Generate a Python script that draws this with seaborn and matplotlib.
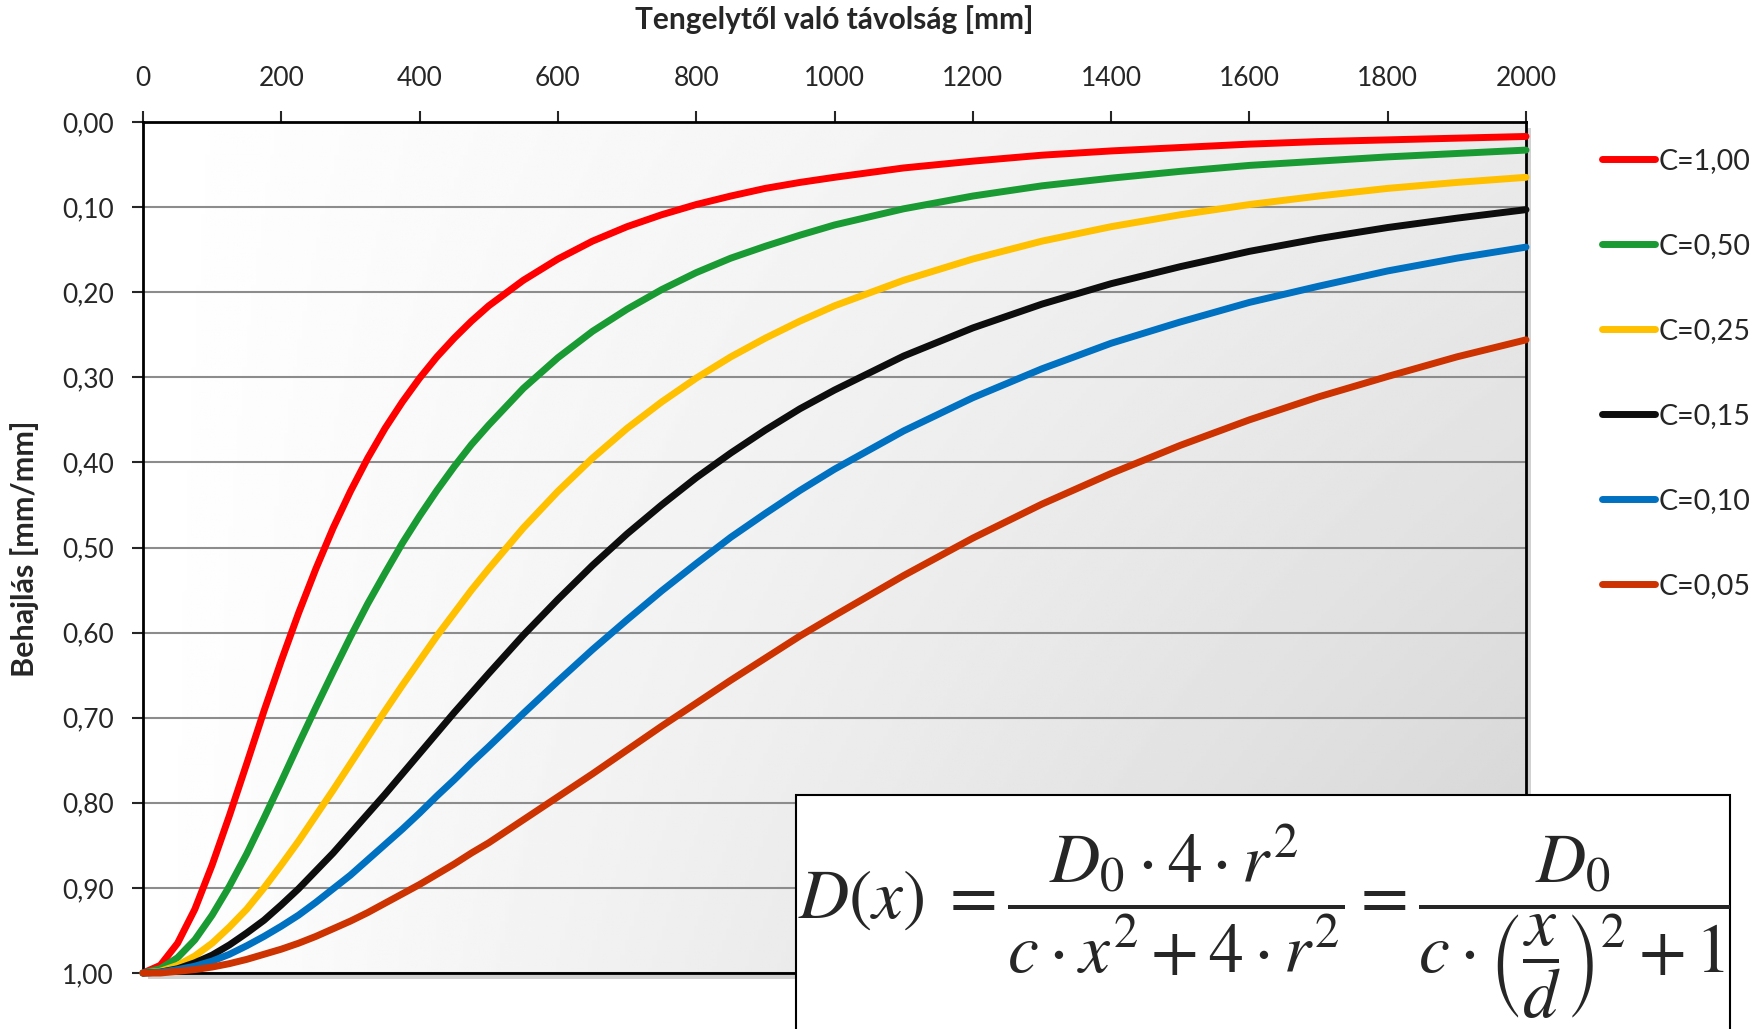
import numpy as np
import pandas as pd
import matplotlib
matplotlib.use("Agg")
import matplotlib.pyplot as plt
import seaborn as sns
from matplotlib.patches import Rectangle
from matplotlib.lines import Line2D
from matplotlib.ticker import FuncFormatter

# distance from axis [mm]
x_mm = [0, 25, 50, 75, 100, 125, 150, 175, 200, 225, 250, 275, 300, 325, 350,
        375, 400, 425, 450, 475, 500, 550, 600, 650, 700, 750, 800, 850, 900,
        950, 1000, 1100, 1200, 1300, 1400, 1500, 1600, 1700, 1800, 1900, 2000]

# deflection [mm/mm] for each C
d_c100 = [1.000, 0.991, 0.965, 0.925, 0.873, 0.815, 0.754, 0.692, 0.633, 0.577,
          0.525, 0.477, 0.434, 0.395, 0.360, 0.329, 0.301, 0.276, 0.254, 0.234,
          0.216, 0.186, 0.161, 0.140, 0.123, 0.109, 0.097, 0.087, 0.078, 0.071,
          0.065, 0.054, 0.046, 0.039, 0.034, 0.030, 0.026, 0.023, 0.021, 0.019, 0.017]
d_c050 = [1.000, 0.995, 0.982, 0.961, 0.932, 0.898, 0.860, 0.818, 0.775, 0.731,
          0.688, 0.646, 0.605, 0.566, 0.530, 0.495, 0.463, 0.433, 0.405, 0.379,
          0.356, 0.313, 0.277, 0.246, 0.220, 0.197, 0.177, 0.160, 0.146, 0.133,
          0.121, 0.102, 0.087, 0.075, 0.066, 0.058, 0.051, 0.046, 0.041, 0.037, 0.033]
d_c025 = [1.000, 0.998, 0.991, 0.980, 0.965, 0.946, 0.925, 0.900, 0.873, 0.845,
          0.815, 0.785, 0.754, 0.723, 0.692, 0.662, 0.633, 0.604, 0.577, 0.550,
          0.525, 0.477, 0.434, 0.395, 0.360, 0.329, 0.301, 0.276, 0.254, 0.234,
          0.216, 0.186, 0.161, 0.140, 0.123, 0.109, 0.097, 0.087, 0.078, 0.071, 0.065]
d_c015 = [1.000, 0.999, 0.995, 0.988, 0.979, 0.967, 0.953, 0.938, 0.920, 0.901,
          0.880, 0.859, 0.836, 0.813, 0.790, 0.766, 0.742, 0.718, 0.694, 0.671,
          0.648, 0.603, 0.561, 0.521, 0.484, 0.450, 0.418, 0.389, 0.362, 0.337,
          0.315, 0.275, 0.242, 0.214, 0.190, 0.170, 0.152, 0.137, 0.124, 0.113, 0.103]
d_c010 = [1.000, 0.999, 0.996, 0.992, 0.986, 0.978, 0.968, 0.957, 0.945, 0.932,
          0.917, 0.901, 0.885, 0.867, 0.849, 0.831, 0.812, 0.792, 0.773, 0.753,
          0.734, 0.695, 0.657, 0.620, 0.585, 0.551, 0.519, 0.488, 0.460, 0.433,
          0.408, 0.363, 0.324, 0.290, 0.260, 0.235, 0.212, 0.193, 0.175, 0.160, 0.147]
d_c005 = [1.000, 1.000, 0.998, 0.996, 0.993, 0.989, 0.984, 0.978, 0.972, 0.965,
          0.957, 0.948, 0.939, 0.929, 0.918, 0.907, 0.896, 0.884, 0.872, 0.859,
          0.847, 0.820, 0.793, 0.766, 0.738, 0.710, 0.683, 0.656, 0.630, 0.604,
          0.580, 0.533, 0.489, 0.449, 0.413, 0.380, 0.350, 0.323, 0.299, 0.276, 0.256]

labels = ["C=1,00", "C=0,50", "C=0,25", "C=0,15", "C=0,10", "C=0,05"]
series = [d_c100, d_c050, d_c025, d_c015, d_c010, d_c005]
colors = ["#ff0000", "#1a9a32", "#ffc000", "#0d0d0d", "#0070c0", "#cc3300"]

rows = []
for lab, vals in zip(labels, series):
    for x, y in zip(x_mm, vals):
        rows.append((x, y, lab))
df = pd.DataFrame(rows, columns=["x", "D", "C"])

sns.set_style("white")
plt.rcParams['font.family'] = ['Lato', 'DejaVu Sans']
plt.rcParams['mathtext.fontset'] = 'stix'

W, H = 1764, 1029
fig = plt.figure(figsize=(W / 100, H / 100), dpi=100)
left, right, top, bottom = 143, 1526, 122, 973
ax = fig.add_axes([left / W, 1 - bottom / H, (right - left) / W, (bottom - top) / H])

# drop shadow of plot area
fig.add_artist(Rectangle(((left + 5) / W, 1 - (bottom + 6) / H), (right - left) / W,
                         (bottom - top) / H, transform=fig.transFigure,
                         facecolor="#9a9a9a", alpha=0.45, edgecolor="none", zorder=-1))

# gradient background
u = np.linspace(0, 1, 300)
v = np.linspace(0, 1, 300)
U, V = np.meshgrid(u, v)
G = 1 - U * (0.08 + 0.09 * (1 - V))
ax.imshow(G, extent=[0, 1, 0, 1], transform=ax.transAxes, origin="lower",
          cmap="gray", vmin=0, vmax=1, aspect="auto", zorder=0)

sns.lineplot(data=df, x="x", y="D", hue="C", hue_order=labels,
             palette=dict(zip(labels, colors)), linewidth=5, estimator=None,
             legend=False, ax=ax, solid_capstyle="round", solid_joinstyle="round",
             clip_on=False, zorder=3)

ax.set_xlim(0, 2000)
ax.set_ylim(1, 0)
ax.set_xticks(range(0, 2001, 200))
ax.set_yticks(np.round(np.arange(0, 1.01, 0.1), 2))
ax.yaxis.set_major_formatter(FuncFormatter(lambda v, p: f"{v:.2f}".replace(".", ",")))
ax.xaxis.tick_top()
ax.set_xlabel("")
ax.set_ylabel("")
ax.tick_params(axis="x", direction="out", length=8, width=1.5, labelsize=19, pad=14.5,
               top=True, bottom=False)
ax.tick_params(axis="y", direction="out", length=8, width=1.5, labelsize=19, pad=13,
               left=True)
ax.yaxis.grid(True, color="#8c8c8c", linewidth=1.5)
ax.xaxis.grid(False)
ax.set_axisbelow(True)
for s in ax.spines.values():
    s.set_color("black")
    s.set_linewidth(2)

fig.text(834 / W, 1 - 20 / H, "Tengelytől való távolság [mm]", ha="center", va="center",
         fontsize=21.5, fontweight="bold")
fig.text(25 / W, 1 - 549 / H, "Behajlás [mm/mm]", ha="center", va="center",
         rotation=90, fontsize=22, fontweight="bold")

handles = [Line2D([0], [0], color=c, lw=5, solid_capstyle="round") for c in colors]
fig.legend(handles, labels, loc="upper left", bbox_to_anchor=(1602 / W, 1 - 148 / H),
           frameon=False, fontsize=20.5, handlelength=1.85, handletextpad=0.15,
           labelspacing=2.07, borderpad=0, borderaxespad=0)

# formula box
box = Rectangle((796 / W, -0.05), (1730 - 796) / W, (1 - 795 / H) + 0.05,
                transform=fig.transFigure, facecolor="white", edgecolor="black",
                linewidth=1.5, zorder=5)
fig.add_artist(box)
formula = (r"$D(x)\;=\dfrac{D_0\cdot 4\cdot r^2}{c\cdot x^2+4\cdot r^2}"
           r"=\dfrac{D_0}{c\cdot\left(\dfrac{x}{d}\right)^2+1}$")
t = fig.text(798 / W, 1 - 919 / H, formula, ha="left", va="baseline", fontsize=50, zorder=6)
t.set_clip_path(box)

fig.savefig("out.png", dpi=100)
